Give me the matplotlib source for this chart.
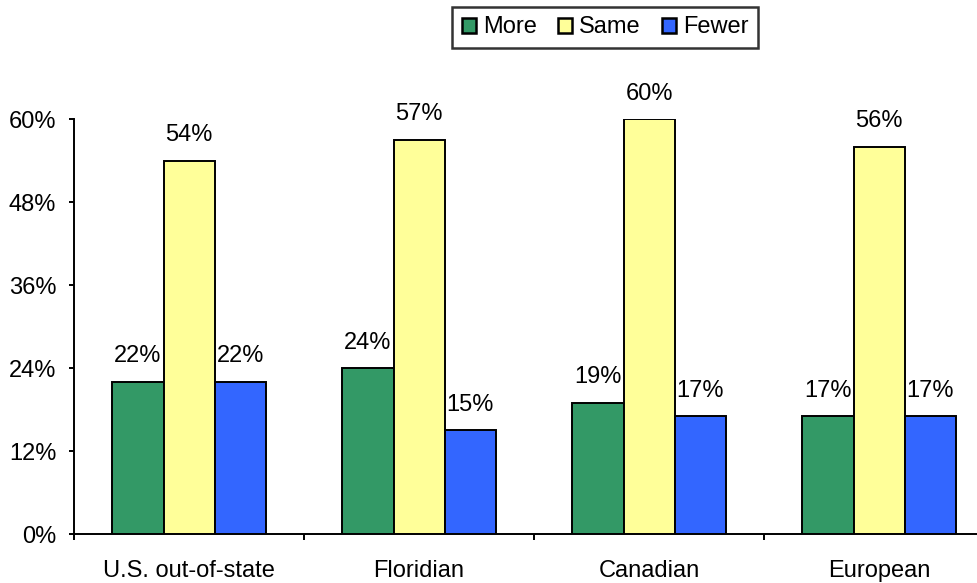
import matplotlib
matplotlib.use("Agg")
import matplotlib.pyplot as plt
import numpy as np
from matplotlib.ticker import FixedLocator, NullFormatter

plt.rcParams['font.family'] = ['Liberation Sans', 'DejaVu Sans']

categories = ["U.S. out-of-state", "Floridian", "Canadian", "European"]
series_names = ["More", "Same", "Fewer"]
more = [22, 24, 19, 17]
same = [54, 57, 60, 56]
fewer = [22, 15, 17, 17]
y_ticks = [0, 12, 24, 36, 48, 60]

colors = ["#339966", "#FFFF99", "#3366FF"]
FS = 17

fig = plt.figure(figsize=(9.78, 5.83), dpi=100)
ax = fig.add_axes([0.0757, 0.084, 0.9407, 0.7118])

x = np.arange(len(categories))
width = 0.222
for i, (vals, name, col) in enumerate(zip([more, same, fewer], series_names, colors)):
    pos = x + (i - 1) * width
    bars = ax.bar(pos, vals, width, color=col, edgecolor="black", linewidth=1.4,
                  label=name, zorder=3)
    for b, v in zip(bars, vals):
        ax.annotate(f"{v}%", (b.get_x() + b.get_width() / 2, v),
                    xytext=(0, 14), textcoords="offset points",
                    ha="center", va="baseline", fontsize=FS)

ax.set_xlim(-0.5, len(categories) - 0.5)
ax.set_ylim(0, 60)
ax.set_yticks(y_ticks)
ax.set_yticklabels([f"{t}%" for t in y_ticks], fontsize=FS)

# Category labels at centres, tick marks at group boundaries
ax.set_xticks(x)
ax.set_xticklabels(categories, fontsize=FS)
ax.tick_params(axis="x", which="major", length=0, pad=19)
ax.xaxis.set_minor_locator(FixedLocator(np.arange(-0.5, len(categories), 1.0)))
ax.xaxis.set_minor_formatter(NullFormatter())
ax.tick_params(axis="x", which="minor", length=4.3, width=1.4, direction="out")
ax.tick_params(axis="y", length=3.8, width=1.4, direction="out", pad=9)

for s in ["top", "right"]:
    ax.spines[s].set_visible(False)
for s in ["left", "bottom"]:
    ax.spines[s].set_linewidth(1.4)

leg = fig.legend(loc="upper center", bbox_to_anchor=(0.619, 0.988), ncol=3,
                 fontsize=FS, frameon=True, fancybox=False, edgecolor="black",
                 handlelength=0.6, handleheight=0.6, handletextpad=0.3,
                 columnspacing=0.9, borderpad=0.4, borderaxespad=0)
leg.get_frame().set_linewidth(1.8)
for h in leg.legend_handles:
    h.set_linewidth(1.8)

fig.savefig("out.png", dpi=100)
